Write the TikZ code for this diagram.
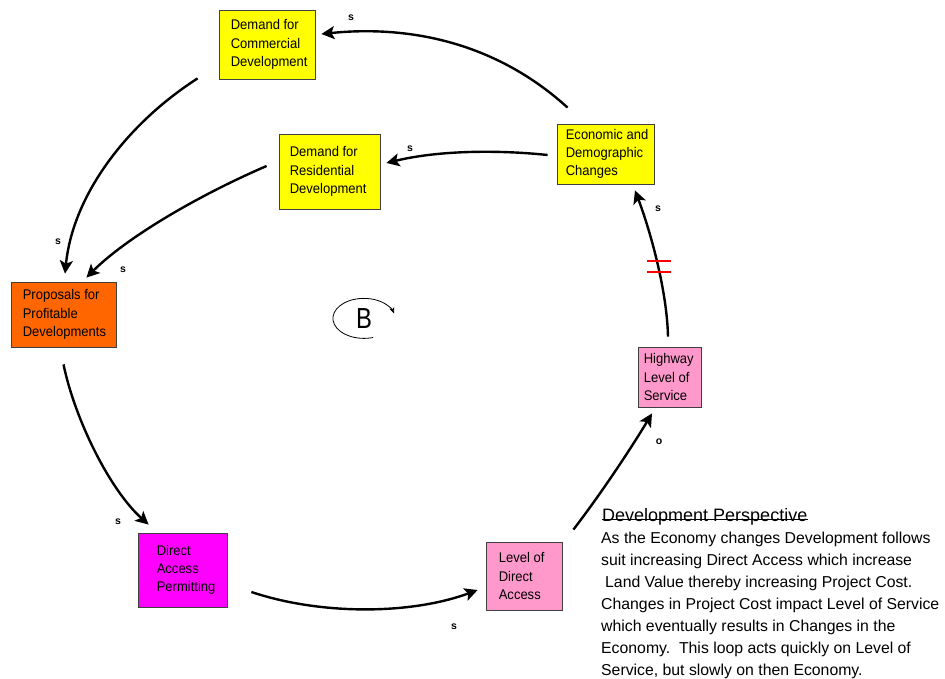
\documentclass[tikz,border=0pt]{standalone}
\usepackage{fontspec}
\setmainfont{Liberation Sans}
\newfontfamily\narrowsans[FakeStretch=0.93]{Liberation Sans}
\newfontfamily\loopsans[FakeStretch=0.82]{Liberation Sans}
\usetikzlibrary{arrows.meta}

\definecolor{cyellow}{HTML}{FFFF00}
\definecolor{corange}{HTML}{FF6600}
\definecolor{cmagenta}{HTML}{FF00FF}
\definecolor{cpink}{HTML}{FF99CC}
\definecolor{cred}{HTML}{FF0000}

\begin{document}
\begin{tikzpicture}[x=1pt,y=-1pt,
  box/.style={draw=black!75, line width=0.8pt, inner sep=0pt},
  boxtext/.style={anchor=west, align=left, inner sep=0pt, font=\narrowsans\fontsize{14}{18.2}\selectfont},
  flow/.style={line width=2.4pt, -{Stealth[length=13pt,width=13pt,inset=3pt]}},
  pol/.style={inner sep=0pt, font=\bfseries\fontsize{10.5}{12}\selectfont},
  delaymark/.style={draw=cred, line width=2.4pt},
  loopmark/.style={line width=0.8pt, -{Stealth[length=6pt,width=5pt,inset=1.5pt]}}
]
\useasboundingbox (0,0) rectangle (945,679);

% ---- variable boxes ----
\node[box, fill=cyellow, minimum width=96, minimum height=69] (com) at (267,44.5) {};
\node[boxtext] (com-t) at ([xshift=12]com.west) {Demand for\\Commercial\\Development};

\node[box, fill=cyellow, minimum width=101, minimum height=75] (res) at (329.5,171.5) {};
\node[boxtext] (res-t) at ([xshift=11]res.west) {Demand for\\Residential\\Development};

\node[box, fill=cyellow, minimum width=97, minimum height=60] (eco) at (605.5,154) {};
\node[boxtext] (eco-t) at ([xshift=9]eco.west) {Economic and\\Demographic\\Changes};

\node[box, fill=corange, minimum width=105, minimum height=65] (prop) at (63.5,314.5) {};
\node[boxtext] (prop-t) at ([xshift=12]prop.west) {Proposals for\\Profitable\\Developments};

\node[box, fill=cpink, minimum width=63, minimum height=60] (hwy) at (669.5,377) {};
\node[boxtext] (hwy-t) at ([xshift=6]hwy.west) {Highway\\Level of\\Service};

\node[box, fill=cmagenta, minimum width=89, minimum height=74] (dap) at (182.5,570) {};
\node[boxtext] (dap-t) at ([xshift=19]dap.west) {Direct\\Access\\Permitting};

\node[box, fill=cpink, minimum width=76, minimum height=68] (lda) at (524,576) {};
\node[boxtext] (lda-t) at ([xshift=13]lda.west) {Level of\\Direct\\Access};

% ---- causal links ----
\draw[flow] ([shift={(11,-16)}]eco.north west)
  .. controls (480,28) and (380,28) .. ([shift={(6,-10.5)}]com.east);
\draw[flow] ([shift={(-9,1)}]eco.west)
  .. controls (500,150) and (440,150) .. ([shift={(6,-8.5)}]res.east);
\draw[flow] ([shift={(-21,-1)}]com.south west)
  .. controls (128,123) and (73,194) .. ([shift={(1.5,-8)}]prop.north);
\draw[flow] ([shift={(-12,-5.5)}]res.west)
  .. controls (197,196) and (126,238) .. ([shift={(-30,-4)}]prop.north east);
\draw[flow] ([shift={(0,17)}]prop.south)
  .. controls (75,420) and (110,490) .. ([shift={(11,-8)}]dap.north west);
\draw[flow] ([shift={(24,22)}]dap.east)
  .. controls (320,615) and (410,615) .. ([shift={(-8,14)}]lda.west);
\draw[flow] ([shift={(11,-12)}]lda.north east)
  .. controls (600,495) and (630,450) .. ([shift={(-17.5,6)}]hwy.south);
\draw[flow] ([shift={(-1.5,-10)}]hwy.north)
  .. controls (667,290) and (650,230) .. ([shift={(29.5,6)}]eco.south);

% delay mark on the level-of-service link
\coordinate (delay) at (659,266.5);
\draw[delaymark] ([shift={(-12,-5.5)}]delay) -- ++(24,0);
\draw[delaymark] ([shift={(-12,5.5)}]delay) -- ++(24,0);

% ---- link polarities ----
\node[pol] (p1) at (351,18) {s};
\node[pol] (p2) at (410,149) {s};
\node[pol] (p3) at (58,242) {s};
\node[pol] (p4) at (123,270) {s};
\node[pol] (p5) at (118,522) {s};
\node[pol] (p6) at (454,627) {s};
\node[pol] (p7) at (658,209) {s};
\node[pol] (p8) at (659,442) {o};

% ---- balancing loop marker ----
\node[inner sep=0pt, font=\loopsans\fontsize{29}{30}\selectfont] (B) at (364,318.5) {B};
\draw[loopmark] ([shift={(9,19)}]B.center)
  arc[start angle=73, end angle=346, x radius=31, y radius=20];

% ---- description ----
\node[anchor=base west, inner sep=0pt, font=\fontsize{18}{20}\selectfont] (title) at (602,521) {Development Perspective};
\draw[line width=0.8pt] ([yshift=2]title.base west) -- ([yshift=2]title.base east);
\node[anchor=north west, align=left, inner sep=0pt, font=\fontsize{15.8}{22}\selectfont] (desc) at (601,532)
  {As the Economy changes Development follows\\
   suit increasing Direct Access which increase\\
   \hspace{4pt}Land Value thereby increasing Project Cost.\\
   Changes in Project Cost impact Level of Service\\
   which eventually results in Changes in the\\
   Economy.\ \ This loop acts quickly on Level of\\
   Service, but slowly on then Economy.};
\end{tikzpicture}
\end{document}
